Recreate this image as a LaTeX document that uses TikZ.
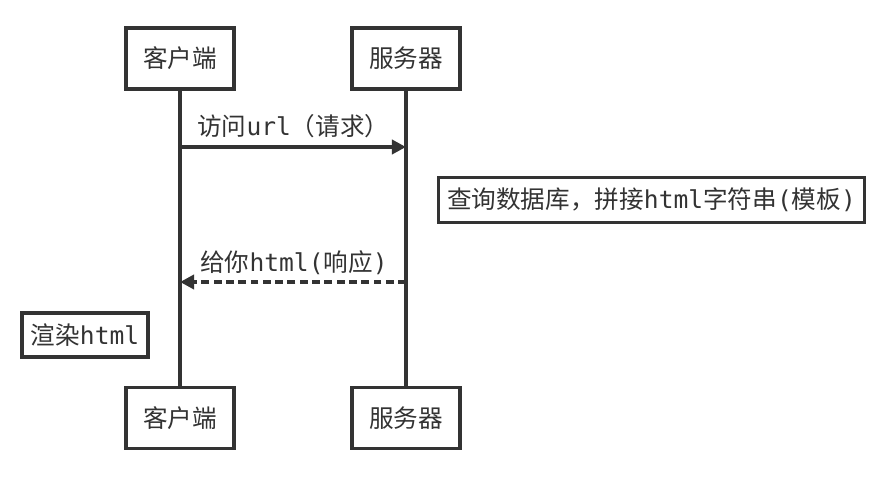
\documentclass[tikz,border=0pt]{standalone}
\usepackage{fontspec}
\setmainfont{Noto Sans CJK SC}
\setmonofont{DejaVu Sans Mono}
\usetikzlibrary{arrows.meta}
\definecolor{ink}{HTML}{333333}

\begin{document}
\begin{tikzpicture}[x=0.02cm, y=-0.02cm,
    actor/.style={draw=ink, line width=2pt, fill=white, minimum width=2.16cm,
                  minimum height=1.22cm, text=ink, font=\fontsize{14}{16}\selectfont},
    note/.style={draw=ink, line width=2pt, fill=white, inner xsep=5pt,
                 minimum height=0.9cm, text=ink, font=\fontsize{14}{16}\selectfont},
    life/.style={draw=ink, line width=2pt},
    msg/.style={draw=ink, line width=2pt, -{Triangle[length=8pt, width=8pt]}},
    lbl/.style={anchor=west, inner sep=0pt, text=ink, font=\fontsize{14}{16}\selectfont}
  ]
    \useasboundingbox (0,0) rectangle (889,483);

    % participants
    \node[actor] (cTop) at (180,58.5) {客户端};
    \node[actor] (sTop) at (406,58.5) {服务器};
    \node[actor] (cBot) at (180,418) {客户端};
    \node[actor] (sBot) at (406,418) {服务器};

    % lifelines
    \draw[life] (cTop) -- (cBot);
    \draw[life] (sTop) -- (sBot);

    % request
    \coordinate (reqC) at (180,147);
    \coordinate (reqS) at (406,147);
    \draw[msg] (reqC) -- (reqS);
    \node[lbl] (reqL) at (197,126) {访问\texttt{url}（请求）};

    % server side note
    \node[note] (build) at (651.5,200) {查询数据库，拼接\texttt{html}字符串\texttt{(}模板\texttt{)}};

    % response
    \coordinate (rspS) at (406,282);
    \coordinate (rspC) at (180,282);
    \draw[msg, dash pattern=on 4.5pt off 2.5pt] (rspS) -- (rspC);
    \node[lbl] (rspL) at (200,263) {给你\texttt{html(}响应\texttt{)}};

    % client side note
    \node[note, minimum width=2.52cm, minimum height=0.88cm] (render) at (85,335) {渲染\texttt{html}};
  \end{tikzpicture}
\end{document}
